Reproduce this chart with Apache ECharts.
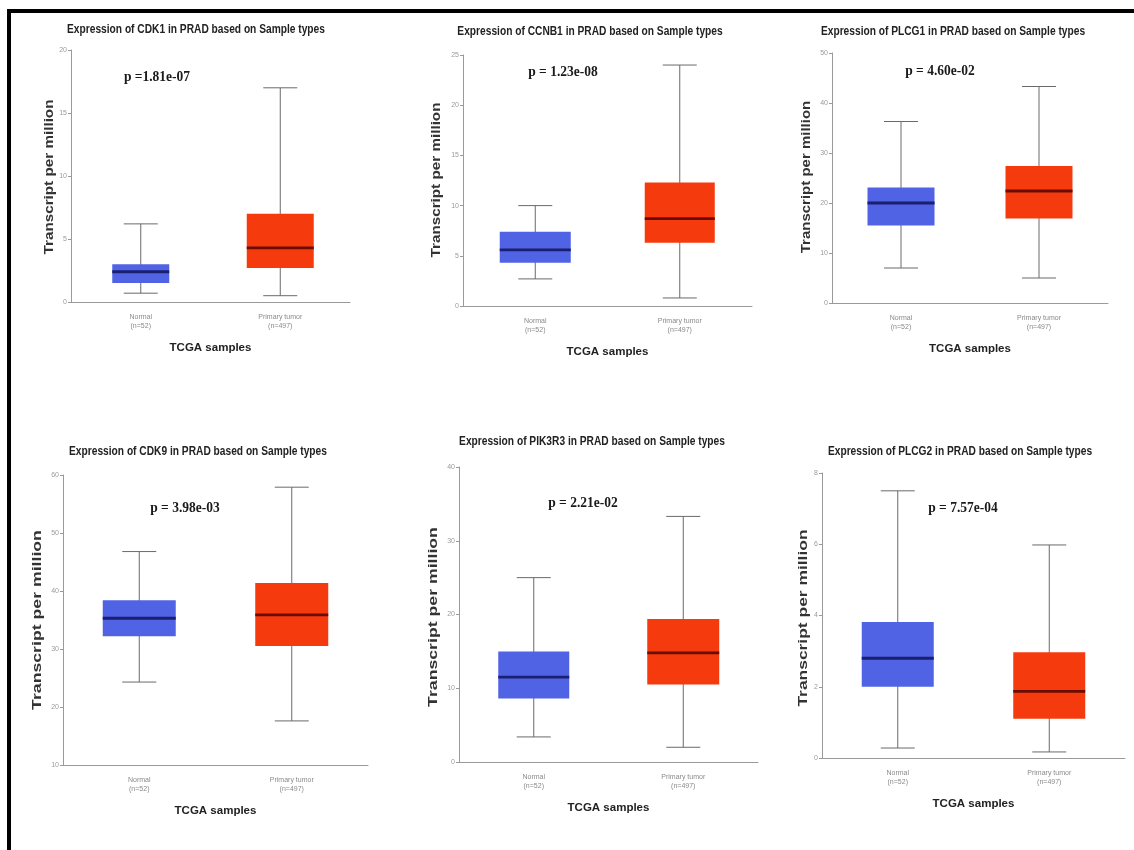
<!DOCTYPE html>
<html>
<head>
<meta charset="utf-8">
<script src="https://cdn.jsdelivr.net/npm/echarts@6/dist/echarts.min.js"></script>
<style>
html,body{margin:0;padding:0;background:#fff;}
#chart{width:1134px;height:850px;}
</style>
</head>
<body>
<div id="chart"></div>
<script>
// ---- data ----
const genes = ['CDK1', 'CCNB1', 'PLCG1', 'CDK9', 'PIK3R3', 'PLCG2'];
const pValueLabels = ['p =1.81e-07', 'p = 1.23e-08', 'p = 4.60e-02', 'p = 3.98e-03', 'p = 2.21e-02', 'p = 7.57e-04'];
const sampleTypes = ['Normal\n(n=52)', 'Primary tumor\n(n=497)'];
// [min, Q1, median, Q3, max]
const normalStats = [
  [0.7, 1.5, 2.4, 3.0, 6.2],
  [2.7, 4.3, 5.6, 7.4, 10.0],
  [7.0, 15.5, 20.0, 23.1, 36.3],
  [24.3, 32.2, 35.3, 38.4, 46.8],
  [3.4, 8.6, 11.5, 15.0, 25.0],
  [0.28, 2.0, 2.8, 3.82, 7.5]
];
const tumorStats = [
  [0.5, 2.7, 4.3, 7.0, 17.0],
  [0.8, 6.3, 8.7, 12.3, 24.0],
  [5.0, 16.9, 22.4, 27.4, 43.3],
  [17.6, 30.5, 35.9, 41.4, 57.9],
  [2.0, 10.5, 14.8, 19.4, 33.3],
  [0.17, 1.1, 1.87, 2.97, 5.98]
];
const yMins = [0, 0, 0, 10, 0, 0];
const yMaxs = [20, 25, 50, 60, 40, 8];
const yIntervals = [5, 5, 10, 10, 10, 2];

// ---- layout ----
const grids = [
  {left: 71, top: 50, width: 279, height: 252},
  {left: 463, top: 55, width: 289, height: 251},
  {left: 832, top: 53, width: 276, height: 250},
  {left: 63, top: 475, width: 305, height: 290},
  {left: 459, top: 467, width: 299, height: 295},
  {left: 822, top: 473, width: 303, height: 285}
];
const boxPx = [[57, 67], [71, 70], [67, 67], [73, 73], [71, 72], [72, 72]];
const titlePos = [[196, 30], [590, 32], [953, 32], [198, 452], [592, 442], [960, 452]];
const pPos = [[157, 77], [563, 72], [940, 71], [185, 508], [583, 503], [963, 508]];
const yNamePos = [[50, 177, 12, 1.27], [437, 180, 12, 1.27], [807, 177, 12, 1.25], [37, 620, 13, 1.36], [433, 617, 13, 1.36], [803, 618, 13, 1.34]];
const boxColors = ['#5063E4', '#F53B0E'];
const medianColors = ['#1A1F70', '#6A0D00'];
const capW = 34;

const titleFont = 'bold 12px "Liberation Sans", Arial, sans-serif';
const pFont = 'bold 15px "Liberation Serif", "Times New Roman", serif';

function makeRender(panel) {
  return function (params, api) {
    const cat = api.value(0);
    const x = api.coord([cat, 0])[0];
    const yMin = api.coord([cat, api.value(1)])[1];
    const yQ1 = api.coord([cat, api.value(2)])[1];
    const yMed = api.coord([cat, api.value(3)])[1];
    const yQ3 = api.coord([cat, api.value(4)])[1];
    const yMax = api.coord([cat, api.value(5)])[1];
    const bw = boxPx[panel][cat];
    const whisk = {stroke: '#6a6a6a', lineWidth: 1};
    return {
      type: 'group',
      children: [
        {type: 'line', shape: {x1: x, y1: yMax, x2: x, y2: yMin}, style: whisk},
        {type: 'line', shape: {x1: x - capW / 2, y1: yMax, x2: x + capW / 2, y2: yMax}, style: whisk},
        {type: 'line', shape: {x1: x - capW / 2, y1: yMin, x2: x + capW / 2, y2: yMin}, style: whisk},
        {type: 'rect', shape: {x: x - bw / 2, y: yQ3, width: bw, height: yQ1 - yQ3}, style: {fill: boxColors[cat]}},
        {type: 'line', shape: {x1: x - bw / 2, y1: yMed, x2: x + bw / 2, y2: yMed}, style: {stroke: medianColors[cat], lineWidth: 2.8}}
      ]
    };
  };
}

const option = {
  backgroundColor: '#fff',
  animation: false,
  grid: [],
  xAxis: [],
  yAxis: [],
  series: [],
  graphic: []
};

genes.forEach((g, i) => {
  option.grid.push(Object.assign({containLabel: false}, grids[i]));
  option.xAxis.push({
    type: 'category', gridIndex: i, data: sampleTypes,
    axisLine: {lineStyle: {color: '#9a9a9a', width: 1}},
    axisTick: {show: false},
    axisLabel: {fontSize: 7, color: '#8a8a8a', lineHeight: 9, margin: 11, fontFamily: 'Arial, sans-serif'},
    name: 'TCGA samples', nameLocation: 'middle', nameGap: 40,
    nameTextStyle: {fontSize: 11.5, fontWeight: 'bold', color: '#222', fontFamily: '"Liberation Sans", Arial, sans-serif'}
  });
  option.yAxis.push({
    type: 'value', gridIndex: i, min: yMins[i], max: yMaxs[i], interval: yIntervals[i],
    splitLine: {show: false},
    axisLine: {show: true, lineStyle: {color: '#9a9a9a', width: 1}},
    axisTick: {show: true, length: 3, lineStyle: {color: '#9a9a9a'}},
    axisLabel: {fontSize: 7, color: '#9a9a9a', margin: 4, fontFamily: 'Arial, sans-serif'}
  });
  option.series.push({
    type: 'custom', xAxisIndex: i, yAxisIndex: i,
    renderItem: makeRender(i),
    encode: {x: 0, y: [1, 2, 3, 4, 5]},
    data: [[0].concat(normalStats[i]), [1].concat(tumorStats[i])],
    silent: true
  });
  option.graphic.push({
    type: 'text', x: titlePos[i][0], y: titlePos[i][1], scaleX: 0.85,
    style: {text: 'Expression of ' + g + ' in PRAD based on Sample types', font: titleFont, fill: '#222', textAlign: 'center', textVerticalAlign: 'middle'}
  });
  option.graphic.push({
    type: 'text', x: pPos[i][0], y: pPos[i][1], scaleX: 0.9,
    style: {text: pValueLabels[i], font: pFont, fill: '#1a1a1a', textAlign: 'center', textVerticalAlign: 'middle'}
  });
  const yn = yNamePos[i];
  option.graphic.push({
    type: 'text', x: yn[0], y: yn[1], rotation: Math.PI / 2, scaleX: yn[3],
    style: {text: 'Transcript per million', font: 'bold ' + yn[2] + 'px "Liberation Sans", Arial, sans-serif', fill: '#333', textAlign: 'center', textVerticalAlign: 'middle'}
  });
});

// frame
option.graphic.push({type: 'line', shape: {x1: 7, y1: 11, x2: 1134, y2: 11}, style: {stroke: '#000', lineWidth: 4}});
option.graphic.push({type: 'line', shape: {x1: 9, y1: 9, x2: 9, y2: 850}, style: {stroke: '#000', lineWidth: 4}});

const chart = echarts.init(document.getElementById('chart'), null, {renderer: 'canvas'});
chart.setOption(option);
</script>
</body>
</html>
